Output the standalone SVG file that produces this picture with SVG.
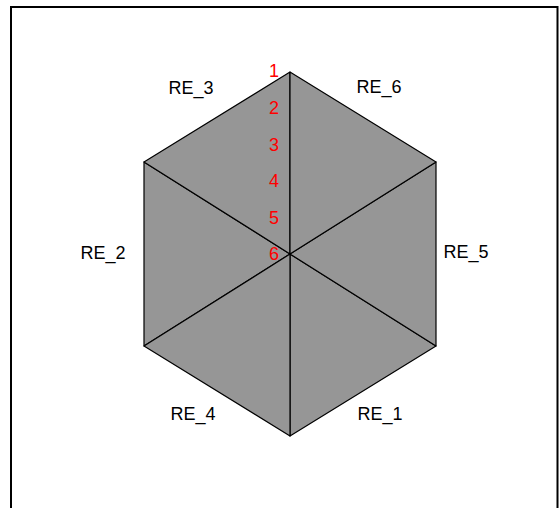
<svg xmlns="http://www.w3.org/2000/svg" width="559" height="508" viewBox="0 0 559 508">
<style>
.tri{fill:#969696;stroke:#000;stroke-width:1.2;stroke-linejoin:round}
.lbl{font-family:"Liberation Sans",Arial,sans-serif;font-size:18px;fill:#000;text-anchor:middle}
.num{font-family:"Liberation Sans",Arial,sans-serif;font-size:18px;fill:#ff0000;text-anchor:middle}
</style>
<rect x="0" y="0" width="559" height="508" fill="#fff"/>
<path d="M11,520 V7 H557.5 V520" fill="none" stroke="#000" stroke-width="2"/>
<g id="RE_1"><polygon class="tri" points="290,254 436,346 290,436"/><text class="lbl" x="380" y="420">RE_1</text></g>
<g id="RE_2"><polygon class="tri" points="290,254 144,162 144,346"/><text class="lbl" x="103" y="259">RE_2</text></g>
<g id="RE_3"><polygon class="tri" points="290,254 290,72 144,162"/><text class="lbl" x="191" y="94">RE_3</text></g>
<g id="RE_4"><polygon class="tri" points="290,254 144,346 290,436"/><text class="lbl" x="193" y="420">RE_4</text></g>
<g id="RE_5"><polygon class="tri" points="290,254 436,162 436,346"/><text class="lbl" x="466" y="258">RE_5</text></g>
<g id="RE_6"><polygon class="tri" points="290,254 290,72 436,162"/><text class="lbl" x="379" y="93">RE_6</text></g>
<g id="numbers">
<text class="num" x="274" y="77">1</text>
<text class="num" x="274" y="114">2</text>
<text class="num" x="274" y="150.5">3</text>
<text class="num" x="274" y="187">4</text>
<text class="num" x="274" y="223.5">5</text>
<text class="num" x="274" y="260">6</text>
</g>
</svg>
